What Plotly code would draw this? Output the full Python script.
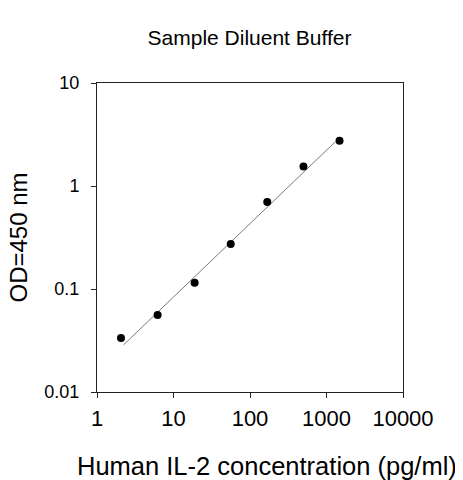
import plotly.graph_objects as go

# Data
conc = [2.06, 6.2, 18.9, 56, 168, 500, 1480]
od = [0.0334, 0.056, 0.115, 0.273, 0.70, 1.55, 2.75]

# Fitted standard curve (endpoints)
fit_conc = [2.23, 1306]
fit_od = [0.0287, 2.69]

x_ticks = [1, 10, 100, 1000, 10000]
x_tick_text = ["1", "10", "100", "1000", "10000"]
y_ticks = [0.01, 0.1, 1, 10]
y_tick_text = ["0.01", "0.1", "1", "10"]

FONT = "Liberation Sans, Arial, sans-serif"

fig = go.Figure()
fig.add_trace(go.Scatter(x=fit_conc, y=fit_od, mode="lines",
                         line=dict(color="#7a7a7a", width=1), hoverinfo="skip"))
fig.add_trace(go.Scatter(x=conc, y=od, mode="markers",
                         marker=dict(color="black", size=8, symbol="circle")))

axis_common = dict(
    type="log", showgrid=False, zeroline=False, showline=True,
    linecolor="#222", linewidth=1, mirror=True, ticks="outside",
    ticklen=5, tickcolor="#222", tickwidth=1,
)

# page body has an 8px margin, so the figure is offset by 8px
fig.update_layout(
    width=455, height=472,
    margin=dict(l=89, r=60, t=75, b=88),
    paper_bgcolor="white", plot_bgcolor="white",
    showlegend=False,
    font=dict(family=FONT, color="black"),
    xaxis=dict(range=[0, 4], tickvals=x_ticks, ticktext=x_tick_text,
               ticklabelstandoff=2,
               tickfont=dict(family=FONT, size=22, color="black"),
               **axis_common),
    yaxis=dict(range=[-2, 1], tickvals=y_ticks, ticktext=y_tick_text,
               ticklabelstandoff=8,
               tickfont=dict(family=FONT, size=18, color="black"),
               **axis_common),
    title=dict(text="Sample Diluent Buffer", x=(249.5 - 8) / 455, xanchor="center",
               y=1 - 30 / 472, yanchor="middle",
               font=dict(family=FONT, size=21, color="black")),
    annotations=[
        dict(text="Human IL-2 concentration (pg/ml)", xref="paper", yref="paper",
             x=(266.7 - 97) / 306, y=-74 / 309, xanchor="center", yanchor="middle",
             showarrow=False, font=dict(family=FONT, size=25.5, color="black")),
        dict(text="OD=450 nm", xref="paper", yref="paper", textangle=-90,
             x=(18 - 97) / 306, y=0.5, xanchor="center", yanchor="middle",
             showarrow=False, font=dict(family=FONT, size=24, color="black")),
    ],
)

fig.write_html("out.html")
